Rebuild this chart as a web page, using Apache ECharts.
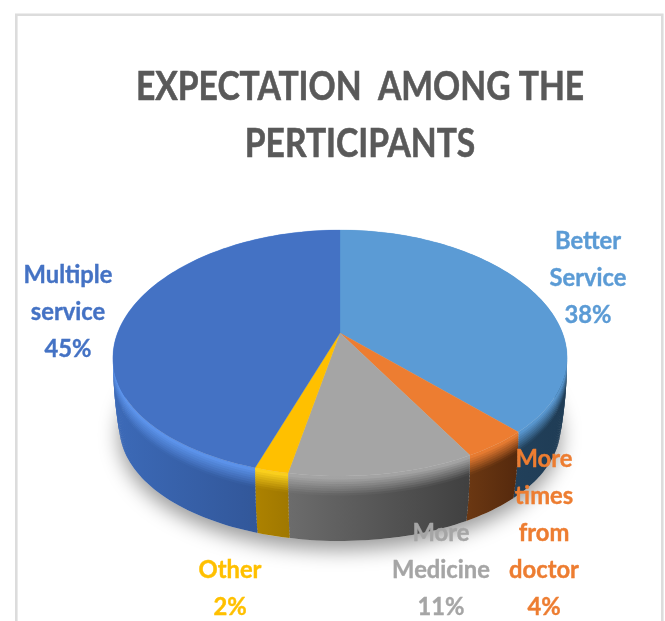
<!DOCTYPE html>
<html>
<head>
<meta charset="utf-8">
<style>
    html, body { margin: 0; padding: 0; background: #fff; }
    #main { width: 665px; height: 621px; }
</style>
<script src="https://cdn.jsdelivr.net/npm/echarts@6/dist/echarts.min.js"></script>
</head>
<body>
<div id="main"></div>
<script>
// data
var categories = ['Better\nService', 'More\ntimes\nfrom\ndoctor', 'More\nMedicine', 'Other', 'Multiple\nservice'];
var shares = [38, 4, 11, 2, 45];

// colours, one per slice
var faceColors = ['#5b9bd5', '#ed7d31', '#a5a5a5', '#ffc000', '#4472c4'];
var rimColors = ['#5b9bd5', '#ee7f33', '#a8a8a8', '#ffd51f', '#5e96ee'];
var wallLeft = ['#2a4d6c', '#6a3712', '#6c6c6c', '#ad8200', '#3c6ab8'];
var wallRight = ['#1f3c55', '#55290d', '#404040', '#a07800', '#2c4c88'];
var labelColors = ['#5b9bd5', '#ed7d31', '#a5a5a5', '#ffc000', '#4472c4'];

// where each label is centred, first line
var labelCenters = [[588, 222], [544, 440], [441, 514], [230, 551], [68, 256]];

// pie projection
var cx = 340, cy = 333;
var radX = 222.5, radY = 119.75, tilt = 0.1626, tiltX = 0.2;
var wallDrop = 69, wallShrink = 0.972, rimPart = 0.27, rimSteps = 8, wallSteps = 14;
var total = shares.reduce(function (a, b) { return a + b; }, 0);

// a point on the rim at turn fraction t (0 = back, clockwise), perspective projected
var rimPoint = function (t, k) {
    var a = t * Math.PI * 2;
    var u = Math.sin(a), v = -Math.cos(a);
    var shrink = 1 - (1 - wallShrink) * k * k;
    return [
        cx + radX * u / (1 - tiltX * v) * shrink,
        cy + radY * v / (1 - tilt * v) * shrink + wallDrop * k
    ];
};

var arc = function (from, to) {
    var ts = [];
    var n = Math.max(4, Math.ceil((to - from) * 240));
    for (var i = 0; i <= n; i++) {
        ts.push(from + (to - from) * i / n);
    }
    return ts;
};

var mix = function (c1, c2, k) {
    var out = '#';
    for (var i = 1; i < 7; i += 2) {
        var a = parseInt(c1.substr(i, 2), 16), b = parseInt(c2.substr(i, 2), 16);
        var h = Math.round(a + (b - a) * k).toString(16);
        out += h.length < 2 ? '0' + h : h;
    }
    return out;
};

// one thin band of the wall between two depths, painted deepest first
var band = function (ts, k0, k1, fill) {
    var top = ts.map(function (t) { return rimPoint(t, k0); });
    var bottom = ts.map(function (t) { return rimPoint(t, k1); }).reverse();
    return {
        type: 'polygon',
        shape: { points: top.concat(bottom) },
        style: { fill: fill }
    };
};

var renderPie = function (params, api) {
    var idx = params.dataIndex;
    var value = api.value(0);
    var before = 0;
    for (var i = 0; i < idx; i++) before += shares[i];
    var from = before / total, to = (before + value) / total;
    var ts = arc(from, to);
    var children = [];
    var xs = ts.map(function (t) { return rimPoint(t, 0)[0]; });
    var x0 = Math.min.apply(null, xs), x1 = Math.max.apply(null, xs);

    var sideFill = function (k) {
        return new echarts.graphic.LinearGradient(x0, 0, x1, 0, [
            { offset: 0, color: mix(rimColors[idx], wallLeft[idx], k) },
            { offset: 1, color: mix(rimColors[idx], wallRight[idx], k) }
        ], true);
    };

    // outer wall
    for (var w = wallSteps - 1; w >= 0; w--) {
        var a0 = rimPart + (1 - rimPart) * w / wallSteps;
        var a1 = rimPart + (1 - rimPart) * (w + 1.5) / wallSteps;
        children.push(band(ts, a0, Math.min(a1, 1), sideFill(1)));
    }
    // bevel at the top of the wall
    for (var s = rimSteps - 1; s >= 0; s--) {
        var b0 = rimPart * s / rimSteps, b1 = rimPart * (s + 1.5) / rimSteps;
        children.push(band(ts, b0, b1, sideFill((s + 0.5) / rimSteps)));
    }
    // top face
    children.push({
        type: 'polygon',
        z2: 5,
        shape: { points: [[cx, cy]].concat(ts.map(function (t) { return rimPoint(t, 0); })) },
        style: { fill: faceColors[idx], stroke: faceColors[idx], lineWidth: 0.3 }
    });
    return { type: 'group', children: children };
};

var renderShadow = function () {
    return {
        type: 'polygon',
        shape: { points: arc(0, 1).map(function (t) { return rimPoint(t, 1); }) },
        style: {
            fill: '#dcdcdc',
            shadowBlur: 20,
            shadowColor: 'rgba(0,0,0,.4)',
            shadowOffsetY: 9
        }
    };
};

var renderLabel = function (params, api) {
    var idx = params.dataIndex;
    return {
        type: 'text',
        x: labelCenters[idx][0],
        y: labelCenters[idx][1],
        scaleX: 0.95,
        style: {
            text: categories[idx] + '\n' + api.value(0) + '%',
            fill: labelColors[idx],
            stroke: labelColors[idx],
            lineWidth: 0.4,
            font: 'bold 25px Lato',
            lineHeight: 37,
            align: 'center',
            verticalAlign: 'top'
        }
    };
};

var myChart = echarts.init(document.getElementById('main'));
var option = {
    animation: false,
    backgroundColor: '#fff',
    graphic: [{
        type: 'polyline',
        shape: { points: [[16.3, 621], [16.3, 14.7], [662.3, 14.7], [662.3, 621]] },
        style: { stroke: '#dcdcdc', lineWidth: 2.6, fill: null }
    }, {
        type: 'text',
        x: 360,
        y: 58,
        scaleX: 0.82,
        style: {
            text: 'EXPECTATION  AMONG THE\nPERTICIPANTS',
            fill: '#595959',
            stroke: '#595959',
            lineWidth: 0.6,
            font: 'bold 41px Lato',
            lineHeight: 57,
            align: 'center',
            verticalAlign: 'top'
        }
    }],
    series: [
        {
            type: 'custom',
            coordinateSystem: 'none',
            renderItem: renderShadow,
            z: 1,
            data: [0]
        },
        {
            type: 'custom',
            coordinateSystem: 'none',
            renderItem: renderPie,
            z: 2,
            data: shares
        },
        {
            type: 'custom',
            coordinateSystem: 'none',
            renderItem: renderLabel,
            z: 3,
            data: shares
        }
    ]
};
myChart.setOption(option);
</script>
</body>
</html>
